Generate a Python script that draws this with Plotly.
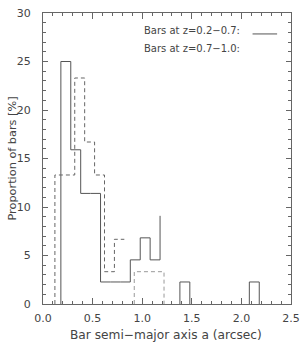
import plotly.graph_objects as go

# ---- data (percent of bars per bin of semi-major axis, arcsec) ----
# z = 0.2-0.7 sample: bin left edges and heights (step line)
low_z_edges = [0.18, 0.28, 0.38, 0.48, 0.58, 0.68, 0.78, 0.88, 0.98, 1.08, 1.18]
low_z_pct = [25.0, 15.9, 11.4, 11.4, 2.27, 2.27, 2.27, 4.55, 6.82, 4.55, 9.09]
# isolated bins of the z = 0.2-0.7 sample
low_z_iso_edges = [1.38, 2.08]
low_z_iso_pct = [2.27, 2.27]

# z = 0.7-1.0 sample
high_z_edges = [0.12, 0.22, 0.32, 0.42, 0.52, 0.62, 0.72, 0.82]
high_z_pct = [13.3, 13.3, 23.3, 16.7, 13.3, 3.33, 6.67]
high_z_box_edges = [0.92, 1.22]
high_z_box_pct = [3.33]

bin_width = 0.1
x_ticks = [0.0, 0.5, 1.0, 1.5, 2.0, 2.5]
x_tick_labels = ["0.0", "0.5", "1.0", "1.5", "2.0", "2.5"]
y_ticks = [0, 5, 10, 15, 20, 25, 30]

LINE = "#555555"
TEXT = "#444444"
FONT = "DejaVu Sans"

fig = go.Figure()

# solid step histogram
fig.add_trace(go.Scatter(
    x=[low_z_edges[0]] + low_z_edges,
    y=[0] + low_z_pct,
    mode="lines", line=dict(shape="hv", color=LINE, width=1),
    showlegend=False, hoverinfo="skip"))

for e, v in zip(low_z_iso_edges, low_z_iso_pct):
    fig.add_trace(go.Scatter(
        x=[e, e, e + bin_width, e + bin_width],
        y=[0, v, v, 0],
        mode="lines", line=dict(color=LINE, width=1),
        showlegend=False, hoverinfo="skip"))

# dashed step histogram
fig.add_trace(go.Scatter(
    x=[high_z_edges[0]] + high_z_edges,
    y=[0] + high_z_pct + [high_z_pct[-1]],
    mode="lines", line=dict(shape="hv", color="#666666", width=1, dash="4px,3px"),
    showlegend=False, hoverinfo="skip"))

b0, b1 = high_z_box_edges
hv = high_z_box_pct[0]
fig.add_trace(go.Scatter(
    x=[b0, b0, b1, b1], y=[0, hv, hv, 0],
    mode="lines", line=dict(color="#999999", width=1, dash="4px,3px"),
    showlegend=False, hoverinfo="skip"))

axis_common = dict(
    showline=True, linecolor="#666666", linewidth=1, mirror="allticks",
    ticks="inside", tickcolor="#666666", showgrid=False, zeroline=False,
    tickfont=dict(family=FONT, size=11, color=TEXT), automargin=False,
)

fig.update_xaxes(
    range=[0, 2.5], tickvals=x_ticks, ticktext=x_tick_labels, ticklen=6,
    minor=dict(dtick=0.1, tick0=0, ticks="inside", ticklen=3, tickcolor="#666666"),
    ticklabelstandoff=4,
    **axis_common)
fig.update_yaxes(
    range=[0, 30], tickvals=y_ticks, ticklen=5,
    minor=dict(dtick=1, tick0=0, ticks="inside", ticklen=3, tickcolor="#666666"),
    ticklabelstandoff=9,
    **axis_common)

# axis titles as annotations for exact placement
fig.add_annotation(text="Bar semi\u2212major axis a (arcsec)", xref="paper", yref="paper",
                   x=0.497, y=-0.108, xanchor="center", yanchor="middle", showarrow=False,
                   borderpad=0, font=dict(family=FONT, size=12.2, color=TEXT))
fig.add_annotation(text="Proportion of bars [%]", xref="paper", yref="paper",
                   x=-0.125, y=0.5, xanchor="center", yanchor="middle", showarrow=False,
                   textangle=-90, borderpad=0, font=dict(family=FONT, size=11.3, color=TEXT))

# legend text
fig.add_annotation(text="Bars at z=0.2\u22120.7:", xref="paper", yref="paper",
                   x=0.40, y=0.94, xanchor="left", yanchor="middle", showarrow=False,
                   font=dict(family=FONT, size=10, color=TEXT))
fig.add_annotation(text="Bars at z=0.7\u22121.0:", xref="paper", yref="paper",
                   x=0.40, y=0.877, xanchor="left", yanchor="middle", showarrow=False,
                   font=dict(family=FONT, size=10, color=TEXT))
fig.add_shape(type="line", xref="paper", yref="paper", x0=0.845, x1=0.944,
              y0=0.928, y1=0.928, line=dict(color=LINE, width=1))

fig.update_layout(
    width=307, height=346,
    margin=dict(l=43, r=16, t=12.5, b=42),
    paper_bgcolor="white", plot_bgcolor="white",
)

fig.write_html("out.html", config={"displayModeBar": False},
               post_script="document.body.style.margin='0';document.body.style.padding='0';")
